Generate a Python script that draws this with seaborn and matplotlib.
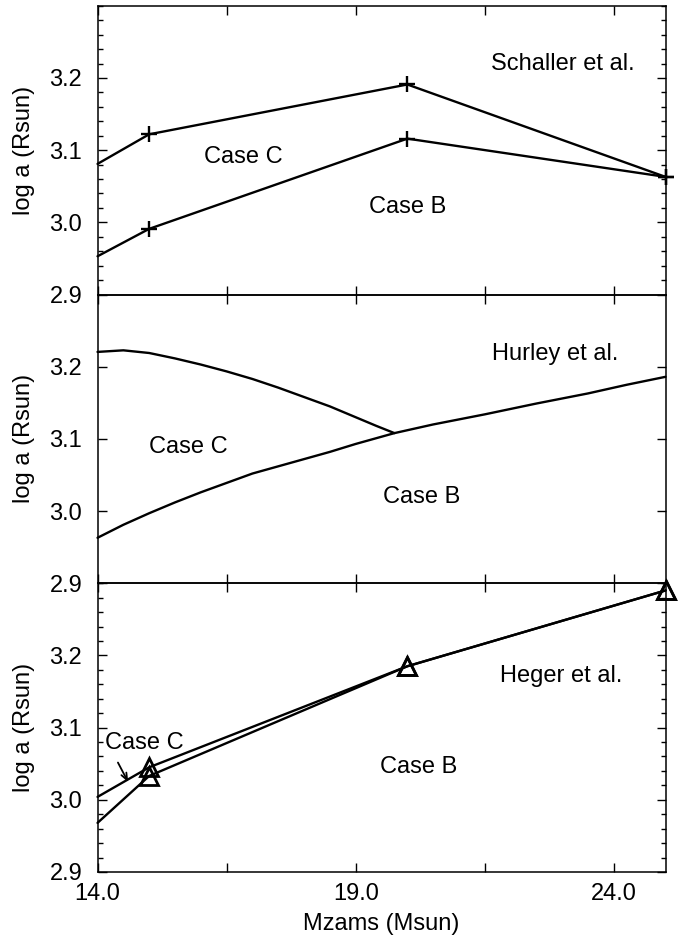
import matplotlib
matplotlib.use("Agg")
import matplotlib.pyplot as plt
import seaborn as sns
import pandas as pd
from matplotlib.ticker import MultipleLocator, FixedLocator, NullLocator

# Data
mass_grid = [14.0, 15.0, 20.0, 25.0]

schaller_case_c = [3.081, 3.122, 3.191, 3.063]
schaller_case_b = [2.953, 2.991, 3.116, 3.063]

hurley_c_mass = [14.0, 14.5, 15.0, 15.5, 16.0, 16.5, 17.0, 17.5, 18.0, 18.5, 19.0, 19.4, 19.75]
hurley_case_c = [3.2205, 3.2227, 3.219, 3.2115, 3.203, 3.1935, 3.183, 3.171, 3.158, 3.145, 3.130, 3.118, 3.108]
hurley_b_mass = [14.0, 14.5, 15.0, 15.5, 16.0, 16.5, 17.0, 17.5, 18.0, 18.5, 19.0, 19.75,
                 20.5, 21.5, 22.5, 23.5, 24.25, 25.0]
hurley_case_b = [2.963, 2.981, 2.997, 3.012, 3.026, 3.039, 3.052, 3.062, 3.072, 3.082, 3.093, 3.108,
                 3.120, 3.134, 3.149, 3.163, 3.175, 3.186]

heger_case_c = [3.004, 3.045, 3.185, 3.290]
heger_case_b = [2.968, 3.033, 3.185, 3.290]

y_ticks = [2.9, 3.0, 3.1, 3.2]
x_ticks = [14.0, 16.5, 19.0, 21.5, 24.0]
x_tick_labels = ["14.0", "", "19.0", "", "24.0"]

sns.set_style("ticks")
plt.rcParams["font.family"] = ["Liberation Sans", "DejaVu Sans"]
for key in ["text.color", "axes.labelcolor", "xtick.color", "ytick.color", "axes.edgecolor"]:
    plt.rcParams[key] = "black"
FS = 17

fig = plt.figure(figsize=(6.83, 9.38), dpi=100)
left, width, height = 0.1428, 0.8316, 0.3078
ax_top = fig.add_axes([left, 0.6860, width, height])
ax_mid = fig.add_axes([left, 0.3782, width, height])
ax_bot = fig.add_axes([left, 0.0704, width, height])

line_kw = dict(color="black", linewidth=1.7, clip_on=False)

# Schaller et al.
for vals in [schaller_case_c, schaller_case_b]:
    df = pd.DataFrame({"mass": mass_grid, "loga": vals})
    sns.lineplot(data=df, x="mass", y="loga", ax=ax_top, marker="+", markersize=12,
                 markeredgewidth=1.7, markeredgecolor="black", markevery=[1, 2, 3], **line_kw)
ax_top.text(23.01, 3.220, "Schaller et al.", fontsize=FS, ha="center", va="center")
ax_top.text(16.82, 3.091, "Case C", fontsize=FS, ha="center", va="center")
ax_top.text(20.01, 3.021, "Case B", fontsize=FS, ha="center", va="center")

# Hurley et al.
df_c = pd.DataFrame({"mass": hurley_c_mass, "loga": hurley_case_c})
df_b = pd.DataFrame({"mass": hurley_b_mass, "loga": hurley_case_b})
sns.lineplot(data=df_c, x="mass", y="loga", ax=ax_mid, **line_kw)
sns.lineplot(data=df_b, x="mass", y="loga", ax=ax_mid, **line_kw)
ax_mid.text(22.86, 3.218, "Hurley et al.", fontsize=FS, ha="center", va="center")
ax_mid.text(15.75, 3.089, "Case C", fontsize=FS, ha="center", va="center")
ax_mid.text(20.28, 3.019, "Case B", fontsize=FS, ha="center", va="center")

# Heger et al.
for vals in [heger_case_c, heger_case_b]:
    df = pd.DataFrame({"mass": mass_grid, "loga": vals})
    sns.lineplot(data=df, x="mass", y="loga", ax=ax_bot, marker="^", markersize=12.5,
                 markeredgewidth=2.0, markerfacecolor="none", markeredgecolor="black",
                 markevery=[1, 2, 3], **line_kw)
ax_bot.text(22.97, 3.172, "Heger et al.", fontsize=FS, ha="center", va="center")
ax_bot.text(14.91, 3.078, "Case C", fontsize=FS, ha="center", va="center")
ax_bot.text(20.22, 3.045, "Case B", fontsize=FS, ha="center", va="center")
ax_bot.annotate("", xy=(14.62, 3.021), xytext=(14.37, 3.055),
                arrowprops=dict(arrowstyle="->,head_length=0.5,head_width=0.2",
                                color="black", lw=1.3))

for ax in [ax_top, ax_mid, ax_bot]:
    ax.patch.set_visible(False)
    ax.set_xlim(14.0, 25.0)
    ax.set_ylim(2.9, 3.3)
    ax.xaxis.set_major_locator(FixedLocator(x_ticks))
    ax.yaxis.set_major_locator(FixedLocator(y_ticks))
    ax.set_yticklabels([f"{v:.1f}" for v in y_ticks])
    ax.tick_params(which="both", direction="in", top=True, right=True,
                   labelsize=FS, width=1.0, color="black", labelcolor="black")
    ax.tick_params(which="major", length=6.5)
    ax.tick_params(which="minor", length=3.4)
    ax.tick_params(axis="y", pad=11)
    ax.tick_params(axis="x", pad=8)
    for s in ax.spines.values():
        s.set_linewidth(1.1)
        s.set_color("black")
    ax.set_ylabel("log a (Rsun)", fontsize=FS, color="black")
    ax.yaxis.set_label_coords(-0.11, 0.5)
    ax.set_xlabel("")

ax_top.yaxis.set_minor_locator(MultipleLocator(0.02))
ax_bot.yaxis.set_minor_locator(MultipleLocator(0.02))
ax_mid.yaxis.set_minor_locator(NullLocator())

ax_top.set_xticklabels([])
ax_mid.set_xticklabels([])
ax_bot.set_xticklabels(x_tick_labels)
ax_bot.set_xlabel("Mzams (Msun)", fontsize=FS, color="black")
ax_bot.xaxis.set_label_coords(0.5, -0.142)
ax_bot.xaxis.label.set_va("top")

fig.savefig("out.png", dpi=100)
